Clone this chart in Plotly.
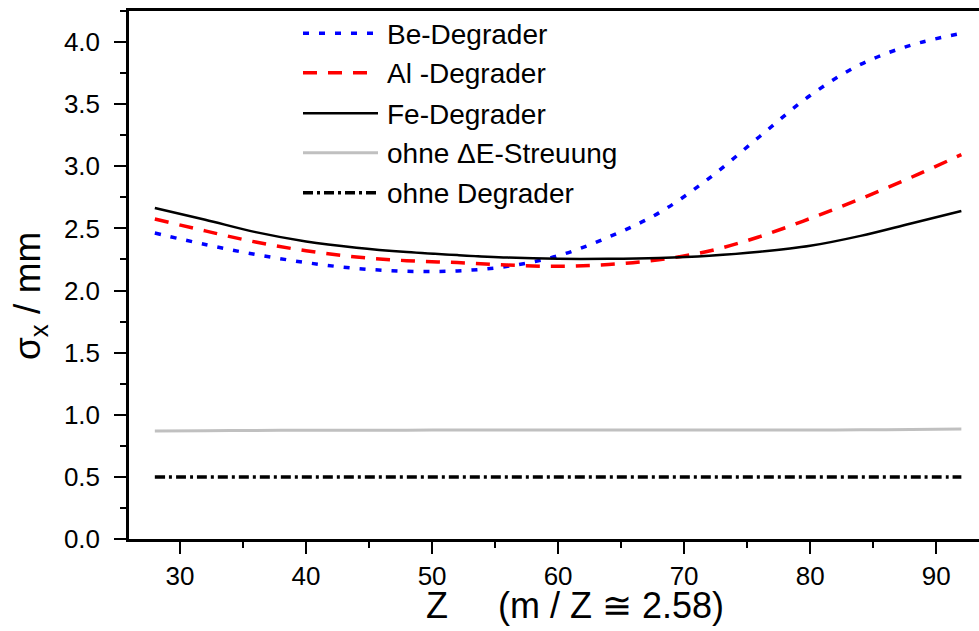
"""Beam width sigma_x vs Z for different degrader materials."""
import plotly.graph_objects as go

BLUE = "#0000ff"
RED = "#ff0000"
BLACK = "#000000"
GREY = "#c0c0c0"
FONT = "Liberation Sans, Arial, sans-serif"

z = [28, 32, 36, 40, 44, 48, 52, 56, 60, 64, 68, 72, 76, 80, 84, 88, 92]
be = [2.463, 2.37, 2.29, 2.225, 2.178, 2.155, 2.158, 2.195, 2.28, 2.43, 2.625,
      2.905, 3.24, 3.57, 3.82, 3.975, 4.07]
al = [2.576, 2.48, 2.39, 2.32, 2.27, 2.24, 2.225, 2.205, 2.195, 2.21, 2.248,
      2.318, 2.434, 2.58, 2.738, 2.91, 3.094]
fe = [2.665, 2.57, 2.47, 2.395, 2.345, 2.31, 2.285, 2.265, 2.255, 2.255, 2.262,
      2.28, 2.312, 2.36, 2.44, 2.54, 2.64]
no_spread = [0.870, 0.872, 0.874, 0.875, 0.876, 0.876, 0.877, 0.877, 0.877, 0.877,
             0.878, 0.878, 0.878, 0.878, 0.879, 0.882, 0.885]
no_degrader = [0.5] * len(z)

names = ["Be-Degrader", "Al -Degrader", "Fe-Degrader", "ohne \u0394E-Streuung", "ohne Degrader"]
series = [be, al, fe, no_spread, no_degrader]
styles = [
    dict(color=BLUE, width=3.5, dash="6px,10px"),
    dict(color=RED, width=3.5, dash="14px,11px"),
    dict(color=BLACK, width=2.5, dash="solid"),
    dict(color=GREY, width=3, dash="solid"),
    dict(color=BLACK, width=3.5, dash="10px,4px,3px,4px"),
]

W, H = 979, 631
L, R, T, B = 129, 0, 11, 92
pw, ph = W - L - R, H - T - B


def px_x(x):
    return (x - L) / pw


def px_y(y):
    return (H - B - y) / ph


fig = go.Figure()
for name, vals, st in zip(names, series, styles):
    fig.add_trace(go.Scatter(x=z, y=vals, mode="lines", name=name,
                             line=dict(shape="spline", **st), showlegend=False))

# hand-drawn legend so the sample lines get the long Origin-style length
shapes, annotations = [], []
rows = [33.3, 72.7, 113.3, 152.7, 192.7]
for name, st, ry in zip(names, styles, rows):
    shapes.append(dict(type="line", xref="paper", yref="paper",
                       x0=px_x(303), x1=px_x(378), y0=px_y(ry), y1=px_y(ry),
                       line=st))
    annotations.append(dict(text=name, xref="paper", yref="paper",
                            x=px_x(385), y=px_y(ry + 1), xanchor="left", yanchor="middle",
                            showarrow=False, font=dict(size=28, color="black", family=FONT)))

annotations.append(dict(text="\u03c3<sub>x</sub> / mm", xref="paper", yref="paper",
                        x=px_x(30), y=px_y(296), xanchor="center", yanchor="middle",
                        textangle=-90, showarrow=False,
                        font=dict(size=37, color="black", family=FONT)))
annotations.append(dict(text="Z\u00a0\u00a0\u00a0\u00a0\u00a0(m / Z \u2245 2.58)",
                        xref="paper", yref="paper",
                        x=px_x(575), y=px_y(605), xanchor="center", yanchor="middle",
                        showarrow=False, font=dict(size=36, color="black", family=FONT)))

axis_common = dict(
    showline=True, linecolor="black", linewidth=2.5,
    ticks="outside", ticklen=12, tickwidth=2, tickcolor="black",
    showgrid=False, zeroline=False,
)

fig.update_layout(
    width=W, height=H,
    margin=dict(l=L, r=R, t=T, b=B),
    paper_bgcolor="white", plot_bgcolor="white",
    font=dict(family=FONT, color="black"),
    shapes=shapes, annotations=annotations,
    xaxis=dict(range=[25.95, 93.4], tick0=30, dtick=10, mirror=True,
               tickfont=dict(size=26),
               minor=dict(dtick=5, tick0=30, ticklen=6, tickwidth=2, tickcolor="black", ticks="outside"),
               **axis_common),
    yaxis=dict(range=[0, 4.25], tick0=0, dtick=0.5, tickformat=".1f",
               tickfont=dict(size=26), ticklabelstandoff=9,
               minor=dict(dtick=0.25, tick0=0, ticklen=6, tickwidth=2, tickcolor="black", ticks="outside"),
               **axis_common),
)

fig.write_html("out.html", config={"displayModeBar": False},
               post_script="document.body.style.margin='0';document.body.style.overflow='hidden';")
